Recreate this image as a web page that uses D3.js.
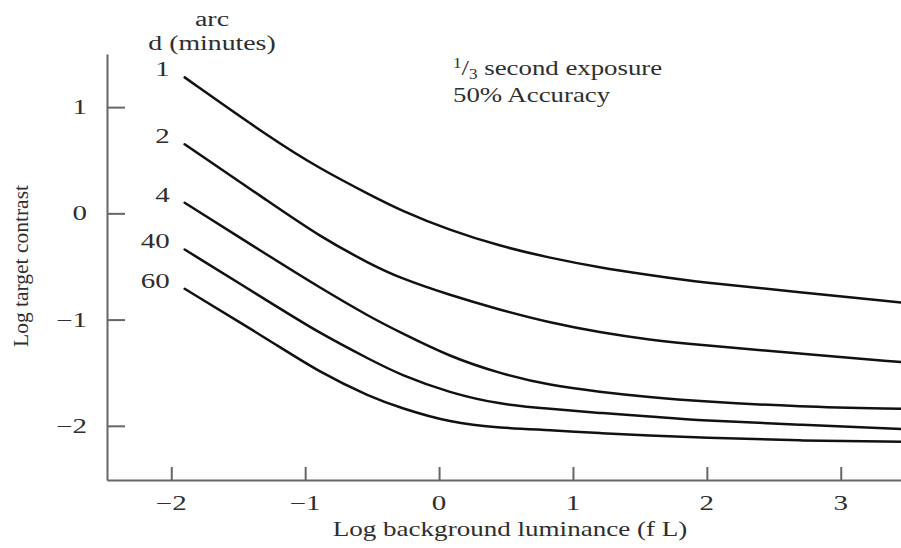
<!DOCTYPE html>
<html>
<head>
<meta charset="utf-8">
<script src="https://cdn.jsdelivr.net/npm/d3@7"></script>
<style>
  html, body { margin: 0; padding: 0; background: #fff; }
  svg { display: block; font-family: "Liberation Serif", "Times New Roman", serif; }
</style>
</head>
<body>
<svg id="chart" width="901" height="548"></svg>
<script>
// Log background luminance (f L) sample positions shared by every curve
const luminance = [-1.90, -1.26, -0.89, -0.51, -0.29, 0.08, 0.46, 0.83, 1.20, 1.57, 1.95, 2.69, 3.45];

// Log target contrast threshold for each target size (arc minutes)
const contrast1  = [1.28, 0.71, 0.42, 0.17, 0.03, -0.16, -0.31, -0.42, -0.51, -0.58, -0.65, -0.74, -0.84];
const contrast2  = [0.65, 0.10, -0.22, -0.48, -0.61, -0.77, -0.91, -1.03, -1.12, -1.19, -1.24, -1.32, -1.40];
const contrast4  = [0.10, -0.41, -0.70, -0.98, -1.12, -1.35, -1.51, -1.62, -1.68, -1.73, -1.77, -1.82, -1.84];
const contrast40 = [-0.34, -0.84, -1.13, -1.38, -1.52, -1.69, -1.80, -1.84, -1.88, -1.91, -1.95, -1.99, -2.03];
const contrast60 = [-0.71, -1.20, -1.50, -1.73, -1.83, -1.97, -2.02, -2.04, -2.07, -2.09, -2.11, -2.14, -2.15];

const arcLabels = ["1", "2", "4", "40", "60"];
const xTicks = [-2, -1, 0, 1, 2, 3];
const yTicks = [1, 0, -1, -2];

const seriesValues = [contrast1, contrast2, contrast4, contrast40, contrast60];
const series = arcLabels.map((label, i) => ({
  label,
  points: luminance.map((lx, j) => ({ x: lx, y: seriesValues[i][j] }))
}));

const svg = d3.select("#chart");
const x = d3.scaleLinear().domain([-2.48, 3.45]).range([107, 901]);
const y = d3.scaleLinear().domain([-2.51, 1.5]).range([480, 54]);

const axisColor = "#666";
const textColor = "#2e2e2e";
const fmt = v => (v < 0 ? "\u2212" + Math.abs(v) : String(v));

// Axes: inward ticks, no outer ticks
const gx = svg.append("g")
  .attr("transform", "translate(0,480)")
  .call(d3.axisBottom(x).tickValues(xTicks).tickSize(-13).tickSizeOuter(0).tickFormat(""));
const gy = svg.append("g")
  .attr("transform", "translate(107,0)")
  .call(d3.axisLeft(y).tickValues(yTicks).tickSize(-18).tickSizeOuter(0).tickFormat(""));
[gx, gy].forEach(g => {
  g.selectAll("path.domain, .tick line").attr("stroke", axisColor).attr("stroke-width", 2);
});

// Tick labels
svg.append("g").selectAll("text")
  .data(xTicks).join("text")
  .attr("transform", d => `translate(${x(d)},510) scale(1.45,1)`)
  .attr("text-anchor", "middle")
  .attr("font-size", 20)
  .attr("fill", textColor)
  .text(fmt);

svg.append("g").selectAll("text")
  .data(yTicks).join("text")
  .attr("transform", d => `translate(87,${y(d) + 7}) scale(1.45,1)`)
  .attr("text-anchor", "end")
  .attr("font-size", 20)
  .attr("fill", textColor)
  .text(fmt);

// Axis titles
svg.append("text")
  .attr("transform", "translate(510,536) scale(1.23,1)")
  .attr("text-anchor", "middle")
  .attr("font-size", 22)
  .attr("fill", textColor)
  .text("Log background luminance (f L)");

svg.append("text")
  .attr("transform", "translate(28,266) rotate(-90)")
  .attr("text-anchor", "middle")
  .attr("font-size", 21.5)
  .attr("fill", textColor)
  .text("Log target contrast");

// Curves
const line = d3.line()
  .x(d => x(d.x))
  .y(d => y(d.y))
  .curve(d3.curveBasis);

svg.append("g").selectAll("path")
  .data(series).join("path")
  .attr("d", d => line(d.points))
  .attr("fill", "none")
  .attr("stroke", "#111")
  .attr("stroke-width", 2.5)
  .attr("stroke-linecap", "round");

// Curve labels (arc minutes) at the start of each curve
svg.append("g").selectAll("text")
  .data(series).join("text")
  .attr("transform", d => `translate(${x(d.points[0].x) - 15},${y(d.points[0].y) - 1}) scale(1.45,1)`)
  .attr("text-anchor", "end")
  .attr("font-size", 20)
  .attr("fill", textColor)
  .text(d => d.label);

// Heading for the curve labels
svg.append("text")
  .attr("transform", "translate(212,26) scale(1.4,1)")
  .attr("text-anchor", "middle")
  .attr("font-size", 20)
  .attr("fill", textColor)
  .text("arc");
svg.append("text")
  .attr("transform", "translate(212,50) scale(1.39,1)")
  .attr("text-anchor", "middle")
  .attr("font-size", 20)
  .attr("fill", textColor)
  .text("d (minutes)");

// Viewing conditions note
const note = svg.append("text")
  .attr("transform", "translate(453,75) scale(1.22,1)")
  .attr("font-size", 22)
  .attr("fill", textColor);
note.append("tspan").attr("font-size", 14).attr("dy", -7).text("1");
note.append("tspan").attr("dy", 7).text("/");
note.append("tspan").attr("font-size", 14).attr("dy", 4).text("3");
note.append("tspan").attr("dy", -4).text(" second exposure");

svg.append("text")
  .attr("transform", "translate(453,102) scale(1.22,1)")
  .attr("font-size", 22)
  .attr("fill", textColor)
  .text("50% Accuracy");
</script>
</body>
</html>
